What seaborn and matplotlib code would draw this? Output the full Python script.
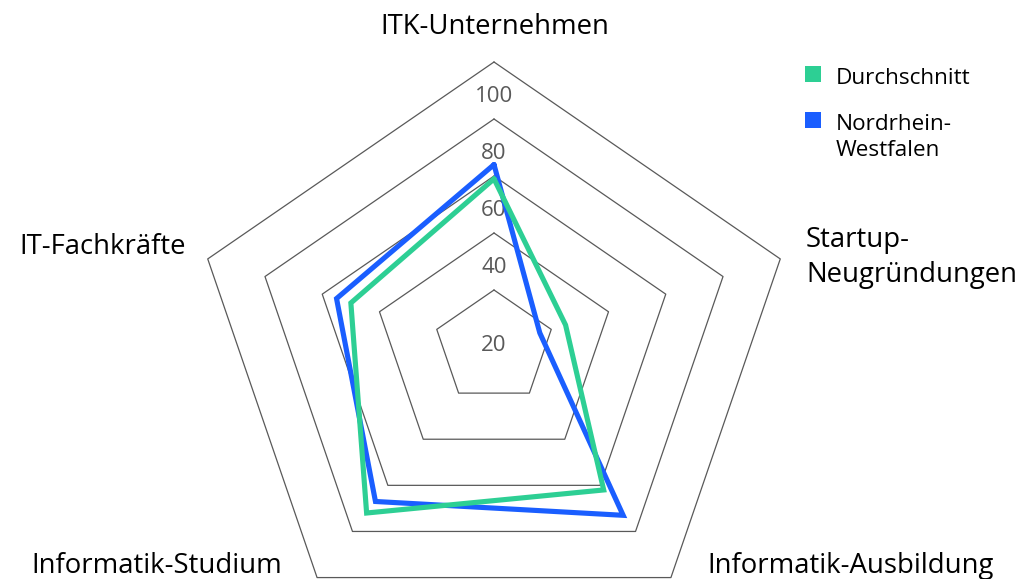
import numpy as np
import pandas as pd
import matplotlib
matplotlib.use("Agg")
import matplotlib.pyplot as plt
import seaborn as sns
from matplotlib.patches import Rectangle

# ---------------- data ----------------
categories = ["ITK-Unternehmen", "Startup-\nNeugründungen", "Informatik-Ausbildung",
              "Informatik-Studium", "IT-Fachkräfte"]
durchschnitt = [59, 25, 62, 72, 50]
nordrhein_westfalen = [64, 16, 73, 67, 55]
series_names = ["Durchschnitt", "Nordrhein-\nWestfalen"]
grid_levels = [20, 40, 60, 80, 100]
tick_labels = ["20", "40", "60", "80", "100"]

# ---------------- style ----------------
sns.set_theme(style="white")
plt.rcParams["font.family"] = ["Open Sans", "DejaVu Sans"]
colors = {"Durchschnitt": "#2DCF94", "Nordrhein-\nWestfalen": "#1A5EFF"}
grid_color = "#595959"

W, H = 1020, 579
fig = plt.figure(figsize=(W / 100, H / 100), dpi=100)
fig.patch.set_facecolor("white")

cx, cy, rx, ry = 494, 347, 301, 285
ax = fig.add_axes([(cx - rx) / W, (H - cy - ry) / H, 2 * rx / W, 2 * ry / H],
                  projection="polar")
ax.set_aspect("auto")
ax.set_theta_offset(np.pi / 2)
ax.set_theta_direction(-1)
ax.set_ylim(0, 100)
ax.grid(False)
ax.set_xticks([])
ax.set_yticks([])
ax.spines["polar"].set_visible(False)
ax.patch.set_alpha(0)

n = len(categories)
theta = np.linspace(0, 2 * np.pi, n, endpoint=False)
theta_closed = np.append(theta, 2 * np.pi)

# pentagon grid
for lvl in grid_levels:
    ax.plot(theta_closed, [lvl] * (n + 1), color=grid_color, lw=0.9,
            clip_on=False, zorder=1)

# data in long form (loop closed by repeating the first point)
rows = []
for name, vals in [(series_names[1], nordrhein_westfalen), (series_names[0], durchschnitt)]:
    closed = list(vals) + [vals[0]]
    for i, (t, v) in enumerate(zip(theta_closed, closed)):
        rows.append({"series": name, "theta": t, "r": v, "order": i})
df = pd.DataFrame(rows)

sns.lineplot(data=df, x="theta", y="r", hue="series", palette=colors,
             hue_order=[series_names[1], series_names[0]],
             sort=False, estimator=None, lw=3.7, ax=ax, legend=False)
for line in ax.lines[-2:]:
    line.set_clip_on(False)
    line.set_solid_joinstyle("miter")
    line.set_zorder(3)
ax.lines[-1].set_zorder(4)

ax.set_xlabel("")
ax.set_ylabel("")

# radial tick labels
tick_label_radius = [0.5, 28, 48, 68, 88]
for lab, rr in zip(tick_labels, tick_label_radius):
    ax.text(0, rr, lab, ha="center", va="center", fontsize=16, color=grid_color, zorder=2)

# text helpers (pixel layout -> figure fraction), one call per line
def ftext(x, y, s, line_gap=0, **kw):
    for k, part in enumerate(s.split("\n")):
        fig.text(x / W, 1 - (y + k * line_gap) / H, part, va="baseline", **kw)

cat_fs = 19.8
ftext(495, 34, categories[0], ha="center", fontsize=cat_fs, color="black")
ftext(806, 247, categories[1], line_gap=35, ha="left", fontsize=cat_fs, color="black")
ftext(707, 573, categories[2], ha="left", fontsize=cat_fs, color="black")
ftext(282, 573, categories[3], ha="right", fontsize=cat_fs, color="black")
ftext(186, 254, categories[4], ha="right", fontsize=cat_fs, color="black")

# legend
leg_y = [66, 112]
for name, yy in zip(series_names, leg_y):
    fig.add_artist(Rectangle((805 / W, 1 - (yy + 16) / H), 16 / W, 16 / H,
                             transform=fig.transFigure, color=colors[name], lw=0))
ftext(836, 84, series_names[0], ha="left", fontsize=16.2, color="black")
ftext(836, 130, series_names[1], line_gap=26, ha="left", fontsize=16.2, color="black")

fig.savefig("out.png", dpi=100, facecolor="white")
